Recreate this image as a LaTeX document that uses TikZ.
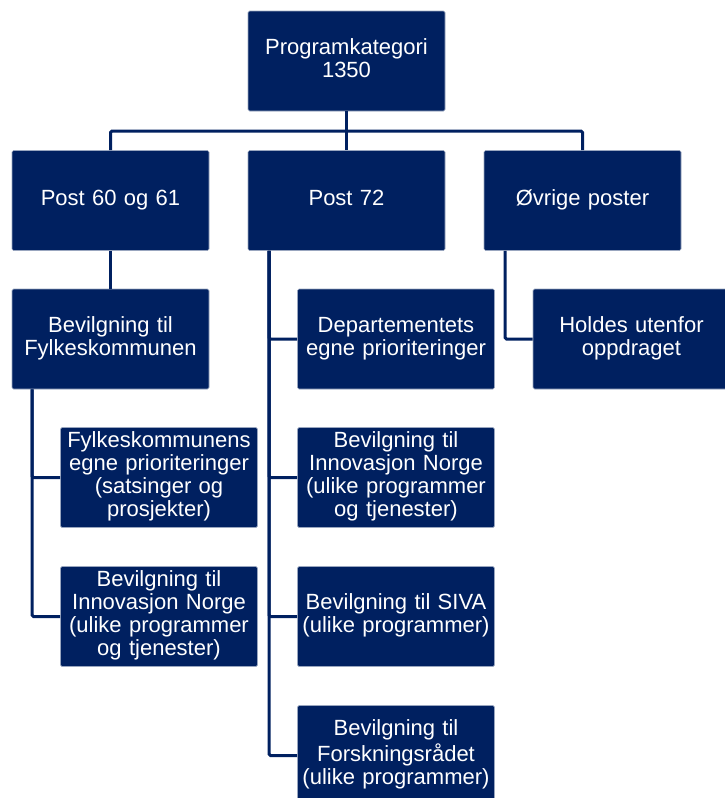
\documentclass[tikz,border=0pt]{standalone}
\usepackage{fontspec}
\setmainfont{Liberation Sans}
\usepackage{tikz}
\definecolor{navy}{RGB}{0,32,96}
\tikzset{
	box/.style={rectangle,fill=navy,draw=navy!40!white,line width=0.6pt,rounded corners=1.5pt,minimum width=197pt,minimum height=100pt,inner sep=0pt,text width=190pt,align=center,text=white,font=\fontsize{22}{23}\selectfont,execute at begin node=\strut,execute at end node=\strut},
	link/.style={draw=navy,line width=3pt,rounded corners=1.5pt}
}

\begin{document}
\begin{tikzpicture}[x=1pt,y=-1pt]
	\useasboundingbox (0,0) rectangle (725,798);
	
	\node[box] (prog) at (346.5,61) {Programkategori\\1350};
	
	\node[box] (p6061) at (110.5,200.5) {Post 60 og 61};
	\node[box] (p72) at (346.5,200.5) {Post 72};
	\node[box] (ovrige) at (582.5,200.5) {Øvrige poster};
	
	\node[box] (bevfylke) at (110.5,339) {Bevilgning til\\Fylkeskommunen};
	\node[box] (fkegne) at (159,477.5) {Fylkeskommunens\\egne prioriteringer\\(satsinger og\\prosjekter)};
	\node[box] (fkinno) at (159,616.5) {Bevilgning til\\Innovasjon Norge\\(ulike programmer\\og tjenester)};
	
	\node[box] (dep) at (396,339) {Departementets\\egne prioriteringer};
	\node[box] (inno) at (396,477.5) {Bevilgning til\\Innovasjon Norge\\(ulike programmer\\og tjenester)};
	\node[box] (siva) at (396,616.5) {Bevilgning til SIVA\\(ulike programmer)};
	\node[box] (forsk) at (396,755.5) {Bevilgning til\\Forskningsrådet\\(ulike programmer)};
	
	\node[box] (holdes) at (631.5,339) {Holdes utenfor\\oppdraget};
	
	\coordinate (split) at (346.5,131);
	\draw[link] (prog) -- (split);
	\draw[link] (split) -| (p6061);
	\draw[link] (split) -| (ovrige);
	\draw[link] (split) -- (p72);
	
	\draw[link] (p6061) -- (bevfylke);
	\draw[link] ([xshift=-78.5pt]bevfylke.south) |- (fkegne.west);
	\draw[link] ([xshift=-78.5pt]bevfylke.south) |- (fkinno.west);
	
	\foreach \n in {dep,inno,siva,forsk}
	{
		\draw[link] ([xshift=-77.5pt]p72.south) |- (\n.west);
	}
	
	\draw[link] ([xshift=-77.5pt]ovrige.south) |- (holdes.west);
	
\end{tikzpicture}
\end{document}
